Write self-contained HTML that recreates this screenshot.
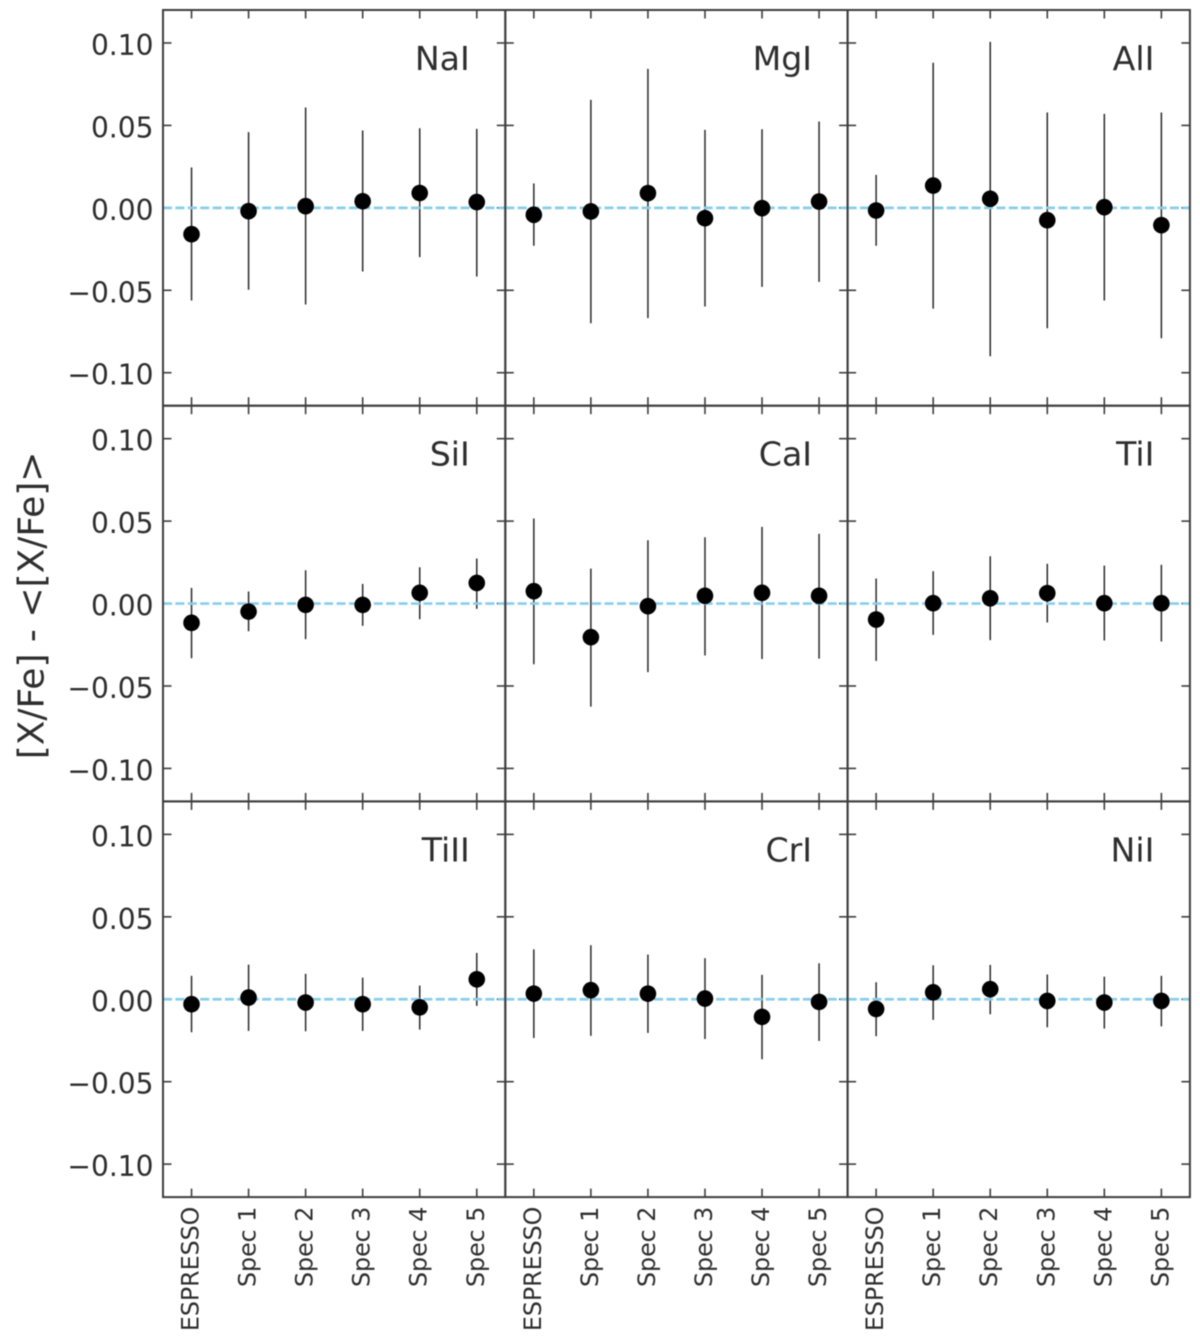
<!DOCTYPE html>
<html>
<head>
<meta charset="utf-8">
<title>Abundance differences by spectrograph</title>
<style>
html,body{margin:0;padding:0;background:#fff;}
svg{display:block;filter:blur(0.5px);}
text{font-family:"DejaVu Sans","Liberation Sans",sans-serif;fill:#2e2e2e;}
</style>
</head>
<body>
<svg id="chart" xmlns="http://www.w3.org/2000/svg" width="1200" height="1343" viewBox="0 0 1200 1343"></svg>
<script>
const elements = ["NaI","MgI","AlI","SiI","CaI","TiI","TiII","CrI","NiI"];
const categories = ["ESPRESSO","Spec 1","Spec 2","Spec 3","Spec 4","Spec 5"];
const yTicks = [0.10,0.05,0,-0.05,-0.10];
const yTickLabels = ["0.10","0.05","0.00","\u22120.05","\u22120.10"];
const values = [
  [-0.0160,-0.0020,0.0010,0.0040,0.0090,0.0035],
  [-0.0042,-0.0022,0.0089,-0.0063,-0.0002,0.0038],
  [-0.0016,0.0135,0.0055,-0.0075,0.0004,-0.0105],
  [-0.0117,-0.0049,-0.0008,-0.0008,0.0065,0.0125],
  [0.0075,-0.0204,-0.0016,0.0047,0.0065,0.0047],
  [-0.0097,0.0002,0.0032,0.0063,0.0002,0.0002],
  [-0.0030,0.0010,-0.0020,-0.0030,-0.0049,0.0121],
  [0.0034,0.0055,0.0034,0.0004,-0.0107,-0.0016],
  [-0.0059,0.0042,0.0061,-0.0010,-0.0020,-0.0010]
];
const upperBounds = [
  [0.0245,0.0459,0.0609,0.0469,0.0483,0.0479],
  [0.0148,0.0655,0.0843,0.0473,0.0477,0.0524],
  [0.0200,0.0880,0.1007,0.0578,0.0570,0.0578],
  [0.0095,0.0073,0.0202,0.0119,0.0220,0.0273],
  [0.0516,0.0212,0.0384,0.0402,0.0465,0.0423],
  [0.0152,0.0196,0.0287,0.0241,0.0230,0.0235],
  [0.0142,0.0210,0.0154,0.0131,0.0083,0.0281],
  [0.0303,0.0328,0.0271,0.0249,0.0148,0.0218],
  [0.0103,0.0206,0.0208,0.0150,0.0137,0.0142]
];
const lowerBounds = [
  [-0.0562,-0.0497,-0.0586,-0.0386,-0.0299,-0.0416],
  [-0.0230,-0.0700,-0.0669,-0.0598,-0.0479,-0.0449],
  [-0.0230,-0.0611,-0.0900,-0.0730,-0.0562,-0.0791],
  [-0.0332,-0.0168,-0.0216,-0.0135,-0.0095,-0.0032],
  [-0.0368,-0.0625,-0.0416,-0.0315,-0.0336,-0.0334],
  [-0.0348,-0.0190,-0.0222,-0.0115,-0.0224,-0.0230],
  [-0.0200,-0.0192,-0.0194,-0.0192,-0.0184,-0.0040],
  [-0.0235,-0.0222,-0.0204,-0.0241,-0.0364,-0.0253],
  [-0.0224,-0.0125,-0.0091,-0.0170,-0.0178,-0.0164]
];
const yLabel = "[X/Fe] - <[X/Fe]>";

const svg = document.getElementById('chart');
const NS = 'http://www.w3.org/2000/svg';
const LEFT = 163, TOP = 10, PW = 342.3, PH = 395.7;
const Y_MIN = -0.12, Y_MAX = 0.12;
const SPINE = '#3e3e3e', TICK = '#3e3e3e', ERR = '#2a2a2a';

function panelX(c){ return LEFT + c * PW; }
function panelY(r){ return TOP + r * PH; }
function xScale(c, i){ return panelX(c) + (i + 0.5) / categories.length * PW; }
function yScale(r, v){ return panelY(r) + (Y_MAX - v) / (Y_MAX - Y_MIN) * PH; }

function line(parent, x1, y1, x2, y2, stroke, width){
  const el = document.createElementNS(NS, 'line');
  el.setAttribute('x1', x1);
  el.setAttribute('y1', y1);
  el.setAttribute('x2', x2);
  el.setAttribute('y2', y2);
  el.setAttribute('stroke', stroke);
  el.setAttribute('stroke-width', width);
  parent.appendChild(el);
  return el;
}
function text(parent, x, y, str, size, anchor){
  const el = document.createElementNS(NS, 'text');
  el.setAttribute('x', x);
  el.setAttribute('y', y);
  el.setAttribute('font-size', size);
  el.setAttribute('text-anchor', anchor);
  el.textContent = str;
  parent.appendChild(el);
  return el;
}

elements.forEach(function(name, p){
  const r = Math.floor(p / 3), c = p % 3;
  const x0 = panelX(c), y0 = panelY(r), x1 = x0 + PW, y1 = y0 + PH;
  const key = name.toLowerCase();

  const g = document.createElementNS(NS, 'g');
  
  
  svg.appendChild(g);

  // error bars
  categories.forEach(function(cat, i){
    const bar = line(g, xScale(c, i), yScale(r, upperBounds[p][i]), xScale(c, i), yScale(r, lowerBounds[p][i]), ERR, 1.5);
    
    
  });

  // y ticks, both sides
  yTicks.forEach(function(v, t){
    const y = yScale(r, v);
    const tl = line(g, x0, y, x0 + 8.5, y, TICK, 1.6);
    
    
    const tr = line(g, x1, y, x1 - 8.5, y, TICK, 1.6);
    
    
    if (c === 0) {
      const lab = text(g, x0 - 9.5, y + 12, yTickLabels[t], 28.1, 'end');
      
      
    }
  });

  // zero reference line
  const zero = line(g, x0, yScale(r, 0), x1, yScale(r, 0), '#87ceeb', 2.7);
  zero.setAttribute('stroke-dasharray', '9 3.4');
  
  

  // points
  categories.forEach(function(cat, i){
    const dot = document.createElementNS(NS, 'circle');
    dot.setAttribute('cx', xScale(c, i));
    dot.setAttribute('cy', yScale(r, values[p][i]));
    dot.setAttribute('r', 8.3);
    dot.setAttribute('fill', '#000');
    
    
    g.appendChild(dot);
  });

  // x ticks, both sides
  categories.forEach(function(cat, i){
    const x = xScale(c, i);
    const tt = line(g, x, y0, x, y0 + 8.5, TICK, 1.6);
    
    
    const tb = line(g, x, y1, x, y1 - 8.5, TICK, 1.6);
    
    
    if (r === 2) {
      const lab = text(g, 0, 0, cat, 23.7, 'end');
      lab.setAttribute('transform', 'translate(' + (x + 7) + ',' + (y1 + 9.6) + ') rotate(-90)');
      
      
    }
  });

  // frame
  const frame = document.createElementNS(NS, 'rect');
  frame.setAttribute('x', x0);
  frame.setAttribute('y', y0);
  frame.setAttribute('width', PW);
  frame.setAttribute('height', PH);
  frame.setAttribute('fill', 'none');
  frame.setAttribute('stroke', SPINE);
  frame.setAttribute('stroke-width', 2);
  
  
  g.appendChild(frame);

  // element label
  const title = text(g, x1 - 35.5, y0 + 60, name, 33.2, 'end');
  
  
});

const yTitle = text(svg, 0, 0, yLabel, 36, 'middle');
yTitle.setAttribute('transform', 'translate(43.5,605.4) rotate(-90)');


</script>
</body>
</html>
